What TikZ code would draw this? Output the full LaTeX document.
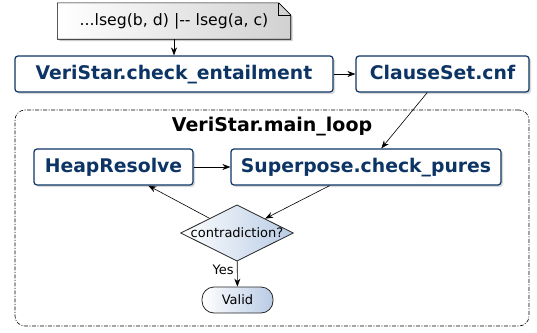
\documentclass[tikz,border=0pt]{standalone}
\usepackage{fontspec}
\setmainfont{DejaVu Sans}
\usetikzlibrary{arrows.meta, positioning, shapes.geometric, shadows}

\definecolor{boxblue}{RGB}{12,52,100}
\definecolor{shadeblue}{RGB}{184,203,229}

\begin{document}
\begin{tikzpicture}[
x=1pt, y=-1pt,
font=\fontsize{13}{15}\selectfont,
process/.style={rectangle, draw=boxblue, line width=1.2pt, rounded corners=3pt, fill=white, text=boxblue, font=\fontsize{18.8}{22}\selectfont\bfseries, text height=13.5pt, text depth=3.5pt, minimum height=36pt, inner sep=0pt, drop shadow={shadow xshift=2pt, shadow yshift=-2pt, opacity=0.3}},
decision/.style={diamond, aspect=2, draw=black!85, line width=0.8pt, left color=white, right color=shadeblue, inner sep=0pt},
terminal/.style={rectangle, rounded corners=12pt, draw=black!85, line width=0.8pt, left color=white, right color=shadeblue, minimum width=71pt, minimum height=26pt, inner sep=0pt},
group/.style={rectangle, draw=black, line width=0.6pt, rounded corners=10pt, dash pattern=on 4pt off 1.5pt on 1pt off 1.5pt, minimum width=514pt, minimum height=216pt},
arrow/.style={-{Stealth[length=8pt, width=6pt]}, line width=0.6pt}
]
\useasboundingbox (0,0) rectangle (537,332);

% outer loop
\node[group] (loop) at (272,218) {};
\node[font=\fontsize{19}{22}\selectfont\bfseries] (looptitle) at (272,127) {VeriStar.main\_loop};

% note
\node[minimum width=233pt, minimum height=36pt, inner sep=0pt] (note) at (174,21) {};
\fill[black, opacity=0.2] ([shift={(2pt,-2pt)}]note.north west) -- ([shift={(-10pt,-2pt)}]note.north east) -- ([shift={(2pt,-14pt)}]note.north east) -- ([shift={(2pt,-2pt)}]note.south east) -- ([shift={(2pt,-2pt)}]note.south west) -- cycle;
\shade[left color=white, right color=black!18, draw=black, line width=0.6pt] (note.north west) -- ([xshift=-12pt]note.north east) -- ([yshift=-12pt]note.north east) -- (note.south east) -- (note.south west) -- cycle;
\draw[line width=0.6pt] ([xshift=-12pt]note.north east) |- ([yshift=-12pt]note.north east);
\node[font=\fontsize{15.7}{18}\selectfont] (notetext) at (note) {...lseg(b, d) |-{}- lseg(a, c)};

% boxes
\node[process, minimum width=318pt] (entail) at (174,74) {VeriStar.check\_entailment};
\node[process, minimum width=173pt] (cnf) at (442.5,74) {ClauseSet.cnf};
\node[process, minimum width=159pt] (heap) at (113.5,167) {HeapResolve};
\node[process, minimum width=270pt] (pures) at (366,167) {Superpose.check\_pures};
\node[decision] (contra) at (237,233) {contradiction?};
\node[terminal] (valid) at (237.5,300) {Valid};

\draw[arrow] (note) -- (entail);
\draw[arrow] (entail) -- (cnf);
\draw[arrow] (cnf) -- (pures);
\draw[arrow] (heap) -- (pures);
\draw[arrow] (pures) -- (contra);
\draw[arrow] (contra) -- (heap);
\draw[arrow] (contra) -- node[left, pos=0.35]{Yes} (valid);

\end{tikzpicture}
\end{document}
